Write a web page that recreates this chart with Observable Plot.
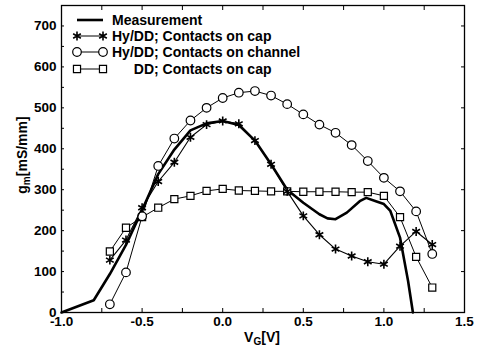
<!DOCTYPE html>
<html><head><meta charset="utf-8">
<script src="https://cdn.jsdelivr.net/npm/d3@7"></script>
<script src="https://cdn.jsdelivr.net/npm/@observablehq/plot@0.6"></script>
<style>
body{margin:0;background:#fff}
#chart svg{font-family:"Liberation Sans",Arial,sans-serif}
</style>
</head><body><div id="chart"></div>
<script>
// ---- data ----
const measV = [-1.0,-0.8,-0.7,-0.6,-0.5,-0.4,-0.3,-0.2,-0.1,0.0,0.1,0.2,0.3,0.4,0.5,0.6,0.65,0.7,0.77,0.85,0.89,0.95,1.0,1.04,1.1,1.15,1.18];
const measG = [0,30,94,165,250,338,398,445,462,468,458,420,362,300,268,240,230,228,244,272,280,272,265,248,183,77,0];

const modelV    = [-0.7,-0.6,-0.5,-0.4,-0.3,-0.2,-0.1,0.0,0.1,0.2,0.3,0.4,0.5,0.6,0.7,0.8,0.9,1.0,1.1,1.2,1.3];
const hyCap     = [128,177,256,320,367,428,459,468,461,420,362,296,236,190,155,138,124,118,162,198,166];
const hyChannel = [20,98,235,358,425,469,500,524,537,541,530,509,484,459,439,409,370,329,296,247,143];
const ddCap     = [149,207,233,256,277,285,297,302,298,297,296,296,295,295,295,294,294,285,233,136,61];

const xLabelTicks = [-1.0,-0.5,0.0,0.5,1.0,1.5];
const xMinorTicks = [-1.0,-0.75,-0.5,-0.25,0,0.25,0.5,0.75,1.0,1.25,1.5];
const yLabelTicks = [0,100,200,300,400,500,600,700];
const yMinorTicks = [0,50,100,150,200,250,300,350,400,450,500,550,600,650,700,750];

const seriesNames = ["Measurement","Hy/DD; Contacts on cap","Hy/DD; Contacts on channel","DD; Contacts on cap"];

const meas = measV.map((v,i)=>({v, g: measG[i]}));
const mk = arr => modelV.map((v,i)=>({v, g: arr[i]}));
const sCap = mk(hyCap), sChan = mk(hyChannel), sDD = mk(ddCap);

const font = "Liberation Sans, Arial, sans-serif";
const chart = Plot.plot({
  width: 493, height: 350,
  marginLeft: 61, marginRight: 29, marginTop: 5, marginBottom: 38,
  style: {fontFamily: font, fontSize: "13.5px", fontWeight: "bold", color: "#000", background: "#fff"},
  x: {domain: [-1, 1.5]},
  y: {domain: [0, 750]},
  marks: [
    Plot.axisX({anchor: "bottom", ticks: xLabelTicks, tickSize: 0, tickPadding: 3.5, tickFormat: d => d.toFixed(1), label: null}),
    Plot.axisX({anchor: "bottom", ticks: xMinorTicks, tickSize: -4, tickFormat: () => "", label: null}),
    Plot.axisX({anchor: "top", ticks: xMinorTicks, tickSize: -4, tickFormat: () => "", label: null}),
    Plot.axisY({anchor: "left", ticks: yLabelTicks, tickSize: 0, tickPadding: 5, tickFormat: d => String(d), label: null}),
    Plot.axisY({anchor: "left", ticks: yMinorTicks, tickSize: -3, tickFormat: () => "", label: null}),
    Plot.axisY({anchor: "right", ticks: yLabelTicks, tickSize: -4, tickFormat: () => "", label: null}),
    Plot.line(meas, {x: "v", y: "g", stroke: "#000", strokeWidth: 2.6}),
    Plot.line(sDD, {x: "v", y: "g", stroke: "#000", strokeWidth: 1}),
    Plot.dot(sDD, {x: "v", y: "g", symbol: "square", r: 4, stroke: "#000", fill: "#fff", strokeWidth: 1.2}),
    Plot.line(sChan, {x: "v", y: "g", stroke: "#000", strokeWidth: 1}),
    Plot.dot(sChan, {x: "v", y: "g", symbol: "circle", r: 4.3, stroke: "#000", fill: "#fff", strokeWidth: 1.2}),
    Plot.line(sCap, {x: "v", y: "g", stroke: "#000", strokeWidth: 1.1}),
    Plot.dot(sCap, {x: "v", y: "g", symbol: "asterisk", r: 4.2, stroke: "#000", strokeWidth: 1.6}),
    Plot.frame({stroke: "#000", strokeWidth: 1.3})
  ]
});
document.getElementById("chart").appendChild(chart);

// ---- axis labels with subscripts ----
const svg = d3.select(chart);
const xl = svg.append("text").attr("x", 262).attr("y", 342).attr("text-anchor", "middle")
  .attr("font-family", font).attr("font-weight", "bold").attr("font-size", 14).attr("fill", "#000");
xl.append("tspan").text("V");
xl.append("tspan").attr("font-size", 10).attr("dy", 3).text("G");
xl.append("tspan").attr("dy", -3).text("[V]");

const yl = svg.append("text").attr("transform", "translate(27,155) rotate(-90)").attr("text-anchor", "middle")
  .attr("font-family", font).attr("font-weight", "bold").attr("font-size", 14).attr("fill", "#000");
yl.append("tspan").text("g");
yl.append("tspan").attr("font-size", 10).attr("dy", 3).text("m");
yl.append("tspan").attr("dy", -3).text("[mS/mm]");

// ---- legend inside plot ----
const lg = svg.append("g").attr("font-family", font).attr("font-weight", "bold").attr("font-size", 14)
  .attr("fill", "#000").attr("text-anchor", "start");
const rowsY = [20, 36, 52, 69];
const x0 = 77, x1 = 103, tx = 112;
const symbols = [null, d3.symbolAsterisk, d3.symbolCircle, d3.symbolSquare];
const rVals = [0, 4.2, 4.3, 4];
// measure offset of "DD" inside "Hy/DD"
const tmp = lg.append("text").text("Hy/");
const hyW = tmp.node().getComputedTextLength();
tmp.remove();
seriesNames.forEach((name, i) => {
  const y = rowsY[i];
  lg.append("line").attr("x1", x0).attr("x2", x1).attr("y1", y).attr("y2", y)
    .attr("stroke", "#000").attr("stroke-width", i === 0 ? 2.6 : 1);
  if (symbols[i]) {
    const sym = d3.symbol(symbols[i], Math.PI * rVals[i] * rVals[i]);
    [x0, x1].forEach(x => {
      lg.append("path").attr("d", sym()).attr("transform", `translate(${x},${y})`)
        .attr("stroke", "#000").attr("stroke-width", i === 1 ? 1.6 : 1.2).attr("fill", i === 1 ? "none" : "#fff");
    });
  }
  lg.append("text").attr("x", i === 3 ? tx + hyW : tx).attr("y", y).attr("dy", "0.35em")
    .attr("text-anchor", "start").text(name);
});
</script>
</body></html>
